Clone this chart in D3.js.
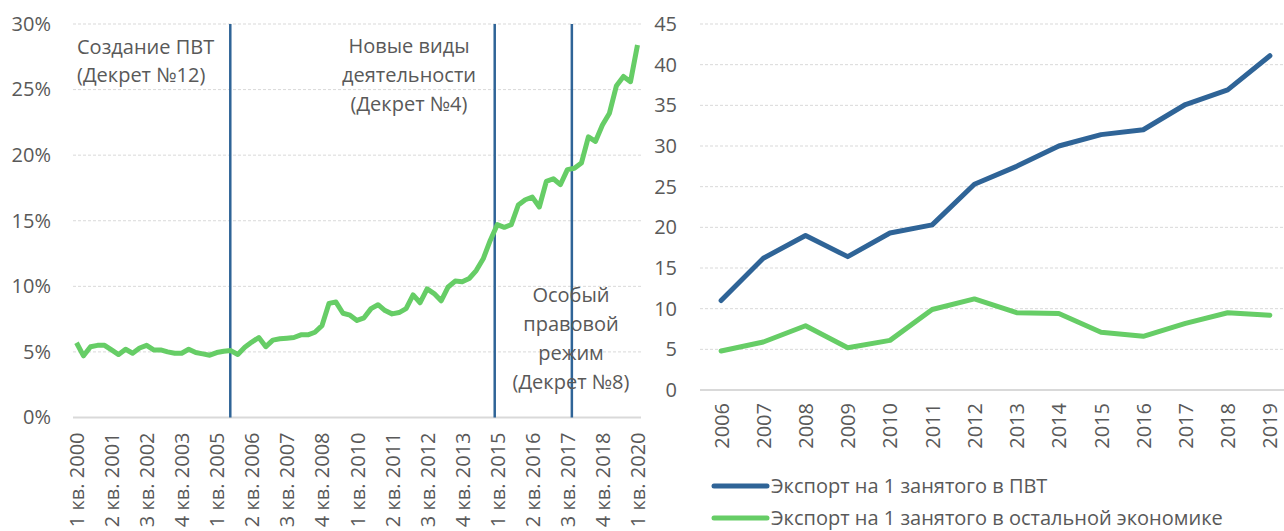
<!DOCTYPE html>
<html>
<head>
<meta charset="utf-8">
<script src="https://cdn.jsdelivr.net/npm/d3@7"></script>
<style>
  body { margin: 0; background: #fff; }
  text { font-family: "Open Sans", sans-serif; fill: #595959; }
</style>
</head>
<body>
<div id="chart"></div>
<script>
// доля ПВТ, поквартально с 1 кв. 2000 по 1 кв. 2020 (%)
const shareValues = [
  5.7, 4.7, 5.4, 5.5, 5.5, 5.15, 4.8, 5.2, 4.9, 5.3,
  5.5, 5.15, 5.15, 5.0, 4.9, 4.9, 5.2, 4.95, 4.85, 4.75,
  4.95, 5.05, 5.1, 4.8, 5.35, 5.75, 6.1, 5.4, 5.9, 6.0,
  6.05, 6.1, 6.3, 6.3, 6.5, 7.0, 8.7, 8.8, 7.95, 7.8,
  7.4, 7.6, 8.3, 8.6, 8.15, 7.9, 8.0, 8.3, 9.35, 8.75,
  9.8, 9.45, 8.9, 9.95, 10.4, 10.35, 10.6, 11.2, 12.1, 13.5,
  14.7, 14.5, 14.7, 16.2, 16.6, 16.8, 16.05, 18.0, 18.2, 17.75,
  18.9, 19.0, 19.4, 21.4, 21.05, 22.3, 23.2, 25.3, 26.0, 25.6,
  28.4
];
const firstYear = 2000;
const quarters = shareValues.map((d, i) => (i % 4 + 1) + ' кв. ' + (firstYear + Math.floor(i / 4)));
const shareTicks = [0, 5, 10, 15, 20, 25, 30];
// положение вертикальных линий (индекс квартала)
const decreeQuarters = [21.93, 59.64, 70.64];
const decreeNotes = [
  ['Создание ПВТ', '(Декрет №12)'],
  ['Новые виды', 'деятельности', '(Декрет №4)'],
  ['Особый', 'правовой', 'режим', '(Декрет №8)']
];

const years = [2006, 2007, 2008, 2009, 2010, 2011, 2012, 2013, 2014, 2015, 2016, 2017, 2018, 2019];
const exportPvt = [11.0, 16.2, 19.0, 16.4, 19.3, 20.3, 25.3, 27.5, 30.0, 31.4, 32.0, 35.1, 36.9, 41.1];
const exportRest = [4.8, 5.9, 7.9, 5.2, 6.1, 9.9, 11.2, 9.5, 9.4, 7.1, 6.6, 8.2, 9.5, 9.2];
const exportTicks = [0, 5, 10, 15, 20, 25, 30, 35, 40, 45];
const legendNames = ['Экспорт на 1 занятого в ПВТ', 'Экспорт на 1 занятого в остальной экономике'];

const blue = '#2f6497';
const green = '#66cd66';
const grid = '#d9d9d9';

const svg = d3.select('#chart')
  .append('svg')
  .attr('width', 1284)
  .attr('height', 531);

// ---------- left chart ----------
const xL = d3.scalePoint().domain(quarters).range([73, 641]).padding(0.5);
const yL = d3.scaleLinear().domain([0, 30]).range([417.5, 24]);
const xq = d3.scaleLinear().domain([0, quarters.length - 1])
  .range([xL(quarters[0]), xL(quarters[quarters.length - 1])]);

svg.append('g')
  .selectAll('line')
  .data(shareTicks)
  .enter()
  .append('line')
  .attr('x1', 73)
  .attr('x2', 641)
  .attr('y1', d => yL(d))
  .attr('y2', d => yL(d))
  .attr('stroke', grid)
  .attr('stroke-width', d => d === 0 ? 2 : 1)
  .attr('stroke-dasharray', d => d === 0 ? null : '3,2');

const yAxisL = svg.append('g')
  .attr('transform', 'translate(73,0)')
  .call(d3.axisLeft(yL).tickValues(shareTicks).tickSize(0).tickPadding(22).tickFormat(d => d + '%'));
yAxisL.select('.domain').remove();
yAxisL.selectAll('text').style('font-size', '20px').attr('fill', '#595959');

const xAxisL = svg.append('g')
  .attr('transform', 'translate(0,417.5)')
  .call(d3.axisBottom(xL).tickValues(quarters.filter((d, i) => i % 5 === 0)).tickSize(0));
xAxisL.select('.domain').remove();
xAxisL.selectAll('text')
  .attr('transform', 'rotate(-90)')
  .attr('x', -15)
  .attr('y', 0)
  .attr('dy', '0.35em')
  .style('text-anchor', 'end')
  .style('font-size', '20px')
  .attr('fill', '#595959');

svg.append('g')
  .selectAll('line')
  .data(decreeQuarters)
  .enter()
  .append('line')
  .attr('x1', d => xq(d))
  .attr('x2', d => xq(d))
  .attr('y1', yL(30))
  .attr('y2', yL(0))
  .attr('stroke', blue)
  .attr('stroke-width', 2.5);

svg.append('path')
  .datum(shareValues)
  .attr('fill', 'none')
  .attr('stroke', green)
  .attr('stroke-width', 5)
  .attr('stroke-linejoin', 'round')
  .attr('d', d3.line().x((d, i) => xL(quarters[i])).y(d => yL(d)));

// подписи к линиям
const noteSpots = [
  { x: 77, y: 54, anchor: 'start', lh: 28 },
  { x: 409, y: 53, anchor: 'middle', lh: 29 },
  { x: 571, y: 302, anchor: 'middle', lh: 29 }
];
decreeNotes.forEach((lines, k) => {
  const s = noteSpots[k];
  const t = svg.append('text')
    .attr('x', s.x)
    .attr('y', s.y)
    .style('text-anchor', s.anchor)
    .style('font-size', '20px');
  lines.forEach((ln, j) => {
    t.append('tspan').attr('x', s.x).attr('dy', j === 0 ? 0 : s.lh).text(ln);
  });
});

// ---------- right chart ----------
const xR = d3.scalePoint().domain(years).range([700, 1291]).padding(0.5);
const yR = d3.scaleLinear().domain([0, 45]).range([390, 24]);

svg.append('g')
  .selectAll('line')
  .data(exportTicks)
  .enter()
  .append('line')
  .attr('x1', 700)
  .attr('x2', 1291)
  .attr('y1', d => yR(d))
  .attr('y2', d => yR(d))
  .attr('stroke', grid)
  .attr('stroke-width', d => d === 0 ? 2 : 1)
  .attr('stroke-dasharray', d => d === 0 ? null : '3,2');

const yAxisR = svg.append('g')
  .attr('transform', 'translate(700,0)')
  .call(d3.axisLeft(yR).tickValues(exportTicks).tickSize(0).tickPadding(23));
yAxisR.select('.domain').remove();
yAxisR.selectAll('text').style('font-size', '20px').attr('fill', '#595959');

const xAxisR = svg.append('g')
  .attr('transform', 'translate(0,390)')
  .call(d3.axisBottom(xR).tickSize(0).tickFormat(d3.format('d')));
xAxisR.select('.domain').remove();
xAxisR.selectAll('text')
  .attr('transform', 'rotate(-90)')
  .attr('x', -13)
  .attr('y', 0)
  .attr('dy', '0.35em')
  .style('text-anchor', 'end')
  .style('font-size', '20px')
  .attr('fill', '#595959');

const series = [exportPvt, exportRest];
const colors = [blue, green];
series.forEach((vals, k) => {
  svg.append('path')
    .datum(vals)
    .attr('fill', 'none')
    .attr('stroke', colors[k])
    .attr('stroke-width', 5)
    .attr('stroke-linejoin', 'round')
    .attr('stroke-linecap', 'round')
    .attr('d', d3.line().x((d, i) => xR(years[i])).y(d => yR(d)));
});

// legend
const legend = svg.append('g');
legendNames.forEach((name, k) => {
  const ly = 486 + k * 32;
  legend.append('line')
    .attr('x1', 714).attr('x2', 767)
    .attr('y1', ly).attr('y2', ly)
    .attr('stroke', colors[k])
    .attr('stroke-width', 5)
    .attr('stroke-linecap', 'round');
  legend.append('text')
    .attr('x', 771)
    .attr('y', ly)
    .attr('dy', '0.35em')
    .style('font-size', '20px')
    .text(name);
});
</script>
</body>
</html>
